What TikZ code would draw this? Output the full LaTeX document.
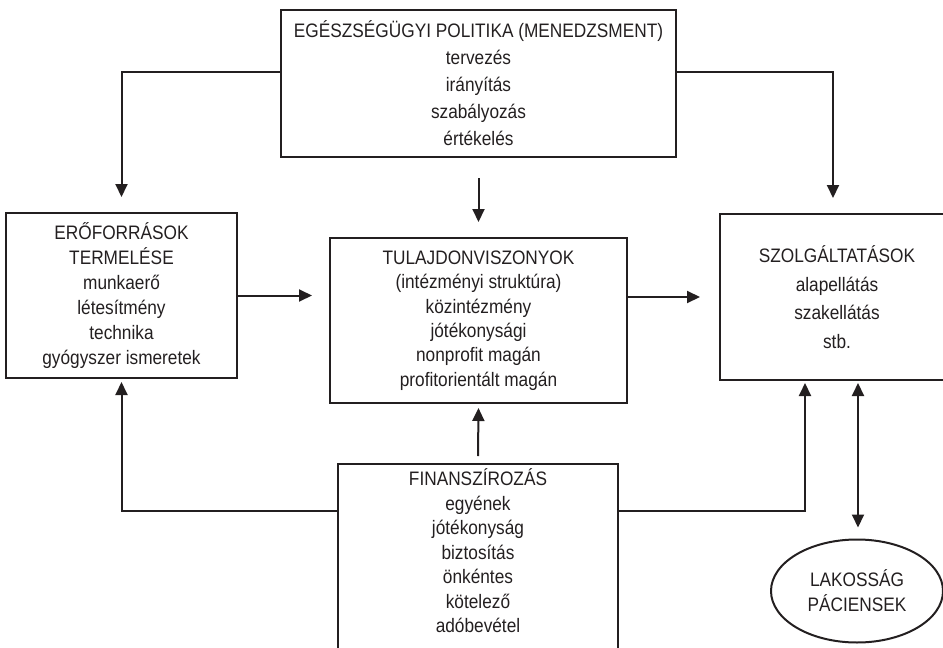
\documentclass[tikz,border=0pt]{standalone}
\usepackage{fontspec}
\setmainfont{Liberation Sans}[FakeStretch=0.885]
\usetikzlibrary{arrows.meta,shapes.geometric}
\definecolor{ink}{RGB}{35,31,32}
\begin{document}
\begin{tikzpicture}[x=1pt,y=-1pt,
  box/.style={draw=ink, line width=2.4pt, rectangle, align=center, inner sep=0pt, outer sep=0pt,
    font=\fontsize{19.5}{#1}\selectfont, text=ink},
  box/.default=25,
  conn/.style={draw=ink, line width=2pt},
  arr/.style={conn, -{Triangle[length=13pt,width=12pt]}},
  darr/.style={conn, {Triangle[length=13pt,width=12pt]}-{Triangle[length=13pt,width=12pt]}},
  oval/.style={ellipse, draw=ink, line width=2pt, inner sep=0pt, outer sep=0pt, align=center,
    font=\fontsize{19.5}{25}\selectfont, text=ink}
]
\useasboundingbox (0,0) rectangle (943,648);

\node[box=27, minimum width=395pt, minimum height=147pt] (pol) at (478.5,83.5)
  {EGÉSZSÉGÜGYI POLITIKA (MENEDZSMENT)\\tervezés\\irányítás\\szabályozás\\értékelés};
\node[box=25, minimum width=231pt, minimum height=165pt] (res) at (121.5,295.5)
  {ERŐFORRÁSOK\\TERMELÉSE\\munkaerő\\létesítmény\\technika\\gyógyszer ismeretek};
\node[box=24.4, minimum width=297pt, minimum height=165pt] (own) at (478.5,320.5)
  {TULAJDONVISZONYOK\\(intézményi struktúra)\\közintézmény\\jótékonysági\\nonprofit magán\\profitorientált magán};
\node[box=28.5, minimum width=234pt, minimum height=166pt] (srv) at (837,297)
  {SZOLGÁLTATÁSOK\\alapellátás\\szakellátás\\stb.};
\node[box=24.5, minimum width=280pt, anchor=north, inner ysep=5pt] (fin) at (478,464)
  {FINANSZÍROZÁS\\egyének\\jótékonyság\\biztosítás\\önkéntes\\kötelező\\adóbevétel\\\rule{0pt}{60pt}};
\node[oval, minimum width=172pt, minimum height=103pt] (pat) at (857,591)
  {LAKOSSÁG\\PÁCIENSEK};

\draw[arr] ([yshift=11.5pt]pol.west) -| ([yshift=16pt]res.north);
\draw[arr] ([yshift=11.5pt]pol.east) -| ([xshift=-4pt,yshift=16pt]srv.north);
\draw[arr] ([yshift=-21pt]pol.south) -- ([yshift=16pt]own.north);
\draw[arr] (res.east) -- ([xshift=-18pt]own.west |- res.east);
\draw[arr] (own.east |- srv.west) -- ([xshift=-20pt]srv.west);
\draw[arr] ([yshift=8pt]fin.north) -- ([yshift=-5pt]own.south);
\draw[arr] ([yshift=-47pt]fin.north west) -| ([yshift=-4pt]res.south);
\draw[arr] ([yshift=-47pt]fin.north east) -| ([xshift=85pt,yshift=-3pt]srv.south west);
\coordinate (d1) at ([xshift=138pt,yshift=-3pt]srv.south west);
\draw[darr, shorten >=12pt] (d1) -- (d1 |- pat.north);
\end{tikzpicture}
\end{document}
